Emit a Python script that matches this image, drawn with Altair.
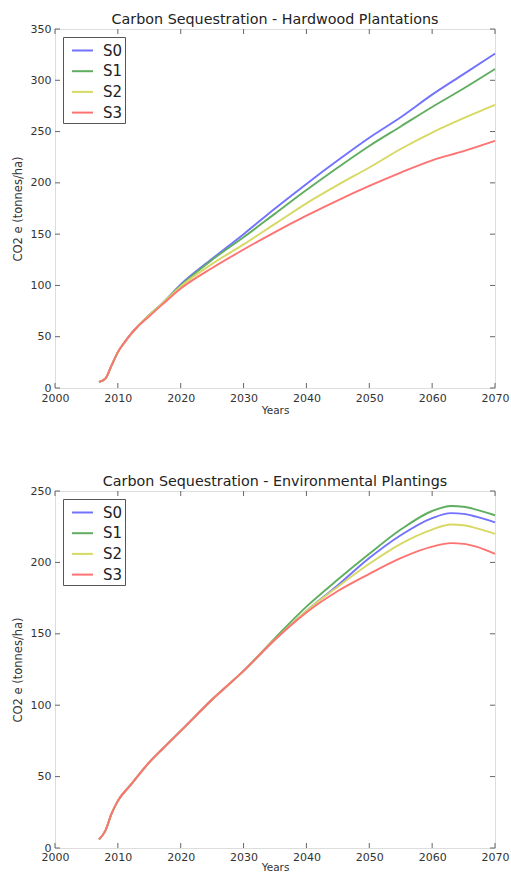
import altair as alt
import pandas as pd

series = ["S0", "S1", "S2", "S3"]
colors = ["#7272ff", "#5fae5f", "#d8d864", "#ff7272"]

# Hardwood plantations
hw_years = [2007, 2008, 2009, 2010, 2011, 2012, 2013, 2015, 2017, 2020, 2025, 2030,
            2035, 2040, 2045, 2050, 2055, 2060, 2065, 2070]
hw_s0 = [6, 9, 22, 35, 44, 52, 59, 71, 82, 101, 126, 150, 175, 199, 222, 244, 264, 286, 306, 326]
hw_s1 = [6, 9, 22, 35, 44, 52, 59, 71, 82, 100, 125, 147, 170, 193, 215, 236, 255, 274, 292, 311]
hw_s2 = [6, 9, 22, 35, 44, 52, 59, 71, 82, 99, 121, 140, 160, 180, 198, 215, 233, 249, 263, 276]
hw_s3 = [6, 9, 22, 35, 44, 52, 59, 70, 81, 97, 117, 135, 152, 168, 183, 197, 210, 222, 231, 241]

# Environmental plantings
ep_years = [2007, 2008, 2009, 2010, 2012, 2015, 2017, 2020, 2025, 2030, 2035, 2040,
            2045, 2050, 2055, 2060, 2063, 2065, 2067, 2070]
ep_s0 = [6, 12, 24, 33, 44, 60, 69, 82, 104, 124, 146, 166, 184, 203, 219, 231, 234.5, 234, 232, 228]
ep_s1 = [6, 12, 24, 33, 44, 60, 69, 82, 104, 124, 147, 169, 188, 206, 223, 236, 239.5, 239, 237, 233]
ep_s2 = [6, 12, 24, 33, 44, 60, 69, 82, 104, 124, 146, 166, 183, 199, 213, 223, 226.5, 226, 224, 220]
ep_s3 = [6, 12, 24, 33, 44, 60, 69, 82, 104, 124, 146, 165, 180, 192, 203, 211, 213.5, 213, 211, 206]

x_ticks = [2000, 2010, 2020, 2030, 2040, 2050, 2060, 2070]
hw_y_ticks = [0, 50, 100, 150, 200, 250, 300, 350]
ep_y_ticks = [0, 50, 100, 150, 200, 250]

W = 440
FONT = "DejaVu Sans"


def long_df(years, cols):
    rows = []
    for name, vals in zip(series, cols):
        for yr, v in zip(years, vals):
            rows.append({"Year": yr, "Value": v, "Series": name})
    return pd.DataFrame(rows)


def panel(title, years, cols, ymax, y_ticks, H, lab_pad, title_pad):
    df = long_df(years, cols)
    xs = alt.Scale(domain=[2000, 2070], nice=False, zero=False)
    ys = alt.Scale(domain=[0, ymax], nice=False)
    lines = alt.Chart(df).mark_line(strokeWidth=1.9, interpolate="monotone").encode(
        x=alt.X("Year:Q", scale=xs,
                axis=alt.Axis(values=x_ticks, format="d", ticks=False, domain=False, grid=False,
                              labelFlush=False, labelOverlap=False,
                              labelPadding=lab_pad, labelFontSize=11, labelColor="#333",
                              title="Years", titleFontSize=10.5, titleFontWeight="normal",
                              titlePadding=title_pad, titleColor="#333",
                              labelFont=FONT, titleFont=FONT)),
        y=alt.Y("Value:Q", scale=ys,
                axis=alt.Axis(values=y_ticks, ticks=False, domain=False, grid=False,
                              labelFlush=False, labelOverlap=False,
                              labelPadding=4, labelFontSize=11, labelColor="#333",
                              title="CO2 e (tonnes/ha)", titleFontSize=11.5,
                              titleFontWeight="normal", titlePadding=7, titleColor="#333",
                              labelFont=FONT, titleFont=FONT)),
        color=alt.Color("Series:N", scale=alt.Scale(domain=series, range=colors),
                        legend=alt.Legend(title=None, orient="none", legendX=8, legendY=8,
                                          symbolType="stroke", symbolSize=441,
                                          symbolStrokeWidth=2, symbolOffset=6,
                                          labelFontSize=15,
                                          labelFont=FONT, labelColor="#222",
                                          labelOffset=9, rowPadding=0.7, padding=2,
                                          strokeColor="#555",
                                          fillColor="white")),
    )
    xt = pd.DataFrame({"t": x_ticks})
    yt = pd.DataFrame({"t": y_ticks})
    tick_style = dict(color="#666", strokeWidth=1)
    xb = alt.Chart(xt).mark_rule(**tick_style).encode(
        x=alt.X("t:Q", scale=xs), y=alt.value(H), y2=alt.value(H - 5))
    xtop = alt.Chart(xt).mark_rule(**tick_style).encode(
        x=alt.X("t:Q", scale=xs), y=alt.value(0), y2=alt.value(5))
    yl = alt.Chart(yt).mark_rule(**tick_style).encode(
        y=alt.Y("t:Q", scale=ys), x=alt.value(0), x2=alt.value(5))
    yr = alt.Chart(yt).mark_rule(**tick_style).encode(
        y=alt.Y("t:Q", scale=ys), x=alt.value(W), x2=alt.value(W - 5))
    return alt.layer(xb, xtop, yl, yr, lines).properties(
        width=W, height=H,
        title=alt.TitleParams(title, fontSize=14.3, fontWeight="normal", font=FONT,
                              color="#222", offset=-4),
    )


top = panel("Carbon Sequestration - Hardwood Plantations", hw_years,
            [hw_s0, hw_s1, hw_s2, hw_s3], 350, hw_y_ticks, 359, 4, 2)
bottom = panel("Carbon Sequestration - Environmental Plantings", ep_years,
               [ep_s0, ep_s1, ep_s2, ep_s3], 250, ep_y_ticks, 357, 3, 0)

chart = alt.vconcat(top, bottom, spacing=58).resolve_scale(color="independent").properties(
    padding={"left": 11, "top": 12, "right": 0, "bottom": 0}
).configure_view(stroke="#666", strokeWidth=2).configure(background="white")

chart.save("out.html", embed_options={"renderer": "svg", "actions": False})
